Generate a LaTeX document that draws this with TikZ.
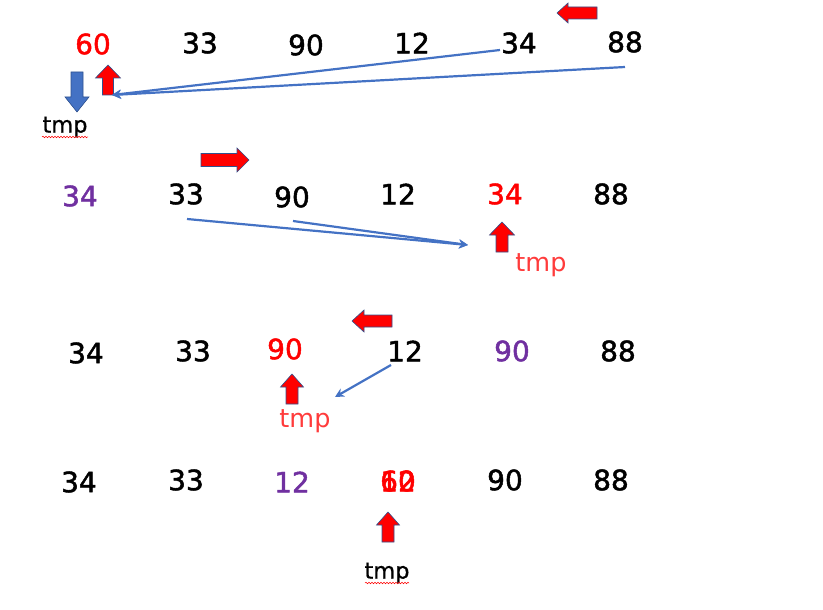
\documentclass[tikz,border=0pt]{standalone}
\usepackage{fontspec}
\setmainfont{DejaVu Sans}
\newfontfamily\numfont{DejaVu Sans}[FakeBold=1.6]
\newfontfamily\tmpfont{DejaVu Sans}[FakeBold=0.8]
\usetikzlibrary{arrows.meta,decorations.pathmorphing}
\definecolor{numred}{HTML}{FF0000}
\definecolor{numpurple}{HTML}{7030A0}
\definecolor{tmpred}{HTML}{FF3B3B}
\definecolor{linkblue}{HTML}{4472C4}
\definecolor{edgeblue}{HTML}{2F528F}
\tikzset{
  num/.style={inner sep=0pt, font=\numfont\fontsize{28}{30}\selectfont},
  tmpblack/.style={inner sep=0pt, font=\tmpfont\fontsize{22.5}{24}\selectfont},
  tmpredlabel/.style={inner sep=0pt, text=tmpred, font=\fontsize{25.5}{27}\selectfont},
  link/.style={draw=linkblue, line width=2.2pt, -{Stealth[length=9pt,width=9pt]}},
  redblock/.style={fill=numred, draw=edgeblue, line width=0.6pt},
  blueblock/.style={fill=linkblue, draw=edgeblue, line width=0.6pt},
  squiggle/.style={draw=red, line width=0.5pt, decorate, decoration={snake, amplitude=0.8pt, segment length=3pt}},
  pics/blockarrow/.style n args={5}{code={
    \path[pic actions, rotate=#1] (-#2/2,-#4/2) -- (#2/2-#5,-#4/2) -- (#2/2-#5,-#3/2) -- (#2/2,0)
      -- (#2/2-#5,#3/2) -- (#2/2-#5,#4/2) -- (-#2/2,#4/2) -- cycle;
  }},
}
\begin{document}
\begin{tikzpicture}[x=1pt,y=-1pt]
\useasboundingbox (0,0) rectangle (823,610);
% row 1
\node[num, text=numred] (r1c1) at (93,44) {60};
\node[num] (r1c2) at (200,43) {33};
\node[num] (r1c3) at (306,45) {90};
\node[num] (r1c4) at (412,43) {12};
\node[num] (r1c5) at (519,43) {34};
\node[num] (r1c6) at (625,42) {88};
\pic[redblock] (r1left) at (577,13) {blockarrow={180}{40}{20}{12}{11}};
\pic[blueblock] (r1down) at (77,92) {blockarrow={-90}{40}{24}{12}{15}};
\pic[redblock] (r1up) at (108,80) {blockarrow={90}{30}{25}{11}{13}};
\node[tmpblack] (tmp1) at (65,127) {tmp};
\draw[squiggle] (42,137) -- (88,137);
\coordinate (s1a) at (500,50);
\coordinate (s1b) at (625,67);
\coordinate (t1) at (112,95);
\draw[link] (s1a) -- (t1);
\draw[link] (s1b) -- (t1);
% row 2
\node[num, text=numpurple] (r2c1) at (80,196) {34};
\node[num] (r2c2) at (186,194) {33};
\node[num] (r2c3) at (292,197) {90};
\node[num] (r2c4) at (398,194) {12};
\node[num, text=numred] (r2c5) at (505,194) {34};
\node[num] (r2c6) at (611,194) {88};
\pic[redblock] (r2right) at (225,160) {blockarrow={0}{48}{24}{13}{12}};
\pic[redblock] (r2up) at (502,237) {blockarrow={90}{30}{25}{12}{13}};
\node[tmpredlabel] (tmp2) at (541,265) {tmp};
\coordinate (s2a) at (187,219);
\coordinate (s2b) at (293,221);
\coordinate (t2) at (468,245);
\draw[link] (s2a) -- (t2);
\draw[link] (s2b) -- (t2);
% row 3
\node[num] (r3c1) at (86,353) {34};
\node[num] (r3c2) at (193,351) {33};
\node[num, text=numred] (r3c3) at (285,349) {90};
\node[num] (r3c4) at (405,351) {12};
\node[num, text=numpurple] (r3c5) at (512,351) {90};
\node[num] (r3c6) at (618,351) {88};
\pic[redblock] (r3left) at (372,321) {blockarrow={180}{40}{22}{12}{12}};
\pic[redblock] (r3up) at (292,389) {blockarrow={90}{30}{23}{12}{13}};
\node[tmpredlabel] (tmp3) at (305,421) {tmp};
\coordinate (s3) at (391,365);
\coordinate (t3) at (335,397);
\draw[link] (s3) -- (t3);
% row 4
\node[num] (r4c1) at (79,482) {34};
\node[num] (r4c2) at (186,480) {33};
\node[num, text=numpurple] (r4c3) at (292,482) {12};
\node[num, text=numred] (r4c4a) at (398,481) {60};
\node[num, text=numred] (r4c4b) at (398,481) {12};
\node[num] (r4c5) at (505,480) {90};
\node[num] (r4c6) at (611,480) {88};
\pic[redblock] (r4up) at (388,527) {blockarrow={90}{30}{23}{12}{13}};
\node[tmpblack] (tmp4) at (387,573) {tmp};
\draw[squiggle] (365,583) -- (409,583);
\end{tikzpicture}
\end{document}
